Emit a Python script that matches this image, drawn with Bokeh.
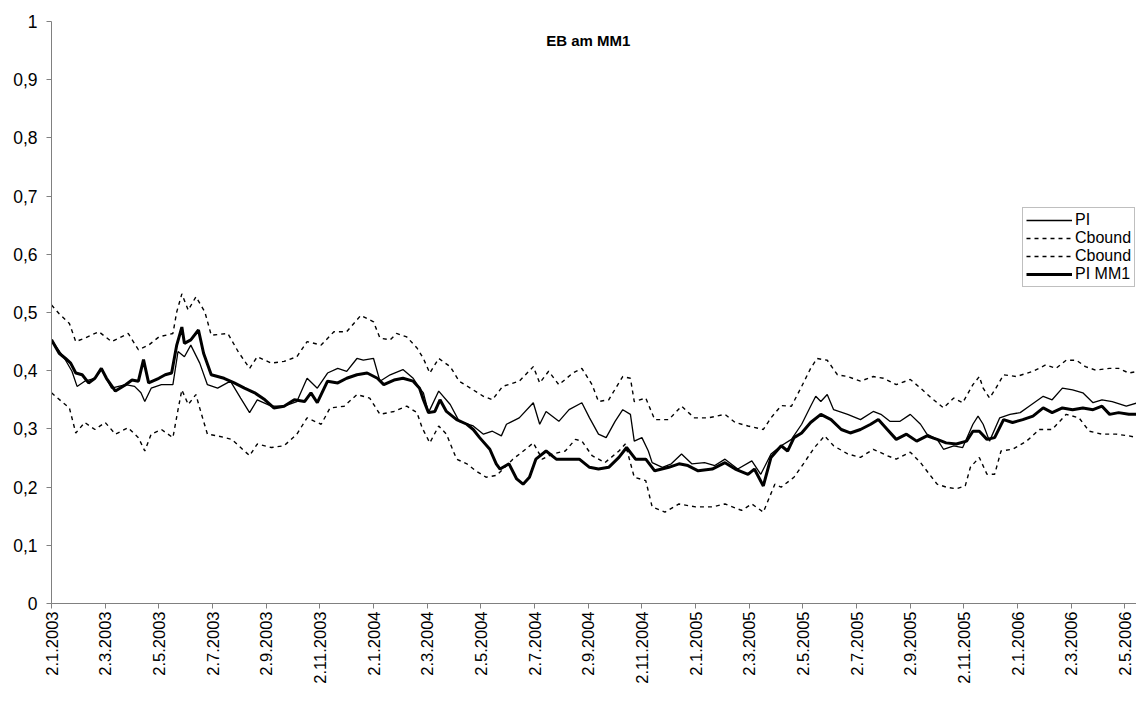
from bokeh.plotting import figure
from bokeh.models import Range1d, FixedTicker, Legend, LegendItem, Label
from bokeh.embed import file_html
from bokeh.resources import INLINE

# ---------------- data (x = trading-day index, 42 days per tick label) ----
tick_labels = ["2.1.2003", "2.3.2003", "2.5.2003", "2.7.2003", "2.9.2003", "2.11.2003",
               "2.1.2004", "2.3.2004", "2.5.2004", "2.7.2004", "2.9.2004", "2.11.2004",
               "2.1.2005", "2.3.2005", "2.5.2005", "2.7.2005", "2.9.2005", "2.11.2005",
               "2.1.2006", "2.3.2006", "2.5.2006"]
days_per_label = 42
y_ticks = [0, 0.1, 0.2, 0.3, 0.4, 0.5, 0.6, 0.7, 0.8, 0.9, 1]
y_labels = ["0", "0,1", "0,2", "0,3", "0,4", "0,5", "0,6", "0,7", "0,8", "0,9", "1"]

pi_mm1_day = [0, 6, 11, 15, 19, 24, 29, 34, 39, 43, 50, 58, 63, 68, 72, 76, 84, 89, 94, 98,
              102, 104, 109, 115, 119, 125, 135, 143, 151, 159, 167, 174, 182, 190, 198, 203,
              208, 216, 224, 231, 239, 247, 255, 260, 268, 275, 283, 288, 291, 295, 300, 304,
              309, 317, 325, 330, 335, 343, 348, 351, 358, 364, 369, 374, 379, 387, 395, 405,
              413, 421, 428, 436, 444, 450, 457, 465, 472, 483, 491, 498, 506, 517, 527, 535,
              545, 550, 557, 563, 571, 576, 581, 587, 594, 602, 610, 618, 625, 633, 641, 647,
              654, 661, 669, 677, 685, 693, 700, 708, 716, 721, 726, 732, 738, 745, 752, 760,
              768, 776, 783, 791, 799, 807, 815, 822, 828, 835, 843, 850, 856]
pi_mm1_val = [0.453, 0.430, 0.421, 0.413, 0.396, 0.393, 0.379, 0.387, 0.404, 0.387, 0.365,
              0.376, 0.384, 0.382, 0.419, 0.379, 0.387, 0.393, 0.396, 0.444, 0.475, 0.447,
              0.453, 0.470, 0.430, 0.393, 0.387, 0.379, 0.370, 0.362, 0.350, 0.336, 0.339,
              0.350, 0.347, 0.362, 0.345, 0.382, 0.379, 0.387, 0.393, 0.396, 0.387, 0.376,
              0.384, 0.387, 0.382, 0.370, 0.350, 0.328, 0.330, 0.350, 0.330, 0.316, 0.308,
              0.299, 0.285, 0.265, 0.240, 0.231, 0.240, 0.214, 0.205, 0.217, 0.248, 0.262,
              0.248, 0.248, 0.248, 0.234, 0.231, 0.234, 0.251, 0.268, 0.248, 0.248, 0.228,
              0.234, 0.240, 0.237, 0.228, 0.231, 0.242, 0.231, 0.222, 0.231, 0.202, 0.251,
              0.271, 0.262, 0.285, 0.293, 0.311, 0.325, 0.316, 0.299, 0.293, 0.299, 0.308,
              0.316, 0.299, 0.282, 0.291, 0.279, 0.288, 0.282, 0.276, 0.274, 0.279, 0.296,
              0.296, 0.282, 0.285, 0.316, 0.311, 0.316, 0.322, 0.336, 0.328, 0.336, 0.333,
              0.336, 0.333, 0.339, 0.325, 0.328, 0.325, 0.325, 0.322]

pi_day = [0, 11, 16, 20, 26, 34, 39, 47, 58, 65, 70, 73, 78, 86, 95, 99, 104, 109, 116, 122,
          130, 140, 148, 155, 161, 172, 182, 192, 200, 208, 216, 224, 231, 239, 244, 252, 257,
          265, 275, 283, 288, 291, 295, 303, 312, 319, 330, 338, 345, 352, 356, 366, 377, 382,
          387, 397, 405, 415, 421, 428, 434, 441, 447, 453, 456, 462, 467, 470, 478, 485, 493,
          501, 511, 519, 527, 537, 548, 555, 563, 571, 579, 587, 594, 598, 602, 607, 612, 623,
          633, 643, 649, 656, 664, 672, 680, 685, 693, 698, 706, 713, 721, 725, 729, 734, 742,
          750, 758, 765, 776, 783, 791, 799, 807, 815, 822, 830, 841, 850, 856]
pi_val = [0.453, 0.418, 0.399, 0.373, 0.382, 0.387, 0.402, 0.370, 0.376, 0.373, 0.362, 0.347,
          0.370, 0.376, 0.376, 0.433, 0.424, 0.444, 0.413, 0.376, 0.370, 0.382, 0.353, 0.328,
          0.350, 0.339, 0.339, 0.347, 0.387, 0.370, 0.396, 0.404, 0.399, 0.421, 0.418, 0.421,
          0.382, 0.393, 0.402, 0.387, 0.370, 0.362, 0.328, 0.365, 0.342, 0.313, 0.305, 0.291,
          0.296, 0.288, 0.308, 0.319, 0.345, 0.308, 0.330, 0.313, 0.333, 0.345, 0.319, 0.291,
          0.285, 0.313, 0.333, 0.325, 0.279, 0.285, 0.262, 0.242, 0.234, 0.240, 0.257, 0.240,
          0.242, 0.237, 0.248, 0.231, 0.245, 0.222, 0.257, 0.271, 0.282, 0.308, 0.339, 0.356,
          0.347, 0.359, 0.333, 0.325, 0.316, 0.330, 0.325, 0.313, 0.313, 0.325, 0.308, 0.291,
          0.282, 0.265, 0.271, 0.268, 0.308, 0.322, 0.308, 0.279, 0.319, 0.325, 0.328, 0.339,
          0.356, 0.350, 0.370, 0.367, 0.362, 0.345, 0.350, 0.347, 0.339, 0.345, 0.343]

cb_up_day = [0, 6, 14, 19, 26, 37, 47, 60, 68, 76, 84, 95, 98, 102, 107, 113, 120, 125, 138,
             146, 155, 161, 172, 182, 192, 200, 211, 221, 231, 242, 252, 257, 265, 270, 278,
             286, 291, 296, 303, 312, 319, 330, 338, 345, 353, 366, 377, 382, 389, 397, 408,
             415, 423, 428, 436, 447, 453, 456, 465, 472, 483, 493, 503, 514, 527, 535, 545,
             557, 563, 571, 579, 587, 594, 599, 607, 615, 623, 633, 643, 651, 661, 672, 680,
             687, 698, 706, 713, 721, 726, 729, 734, 739, 745, 755, 768, 778, 786, 794, 802,
             809, 817, 828, 835, 843, 850, 856]
cb_up_val = [0.513, 0.498, 0.481, 0.450, 0.456, 0.467, 0.450, 0.464, 0.436, 0.444, 0.458,
             0.464, 0.501, 0.532, 0.504, 0.527, 0.501, 0.461, 0.464, 0.433, 0.404, 0.424,
             0.413, 0.416, 0.424, 0.450, 0.444, 0.467, 0.467, 0.495, 0.484, 0.456, 0.453,
             0.464, 0.458, 0.439, 0.421, 0.396, 0.421, 0.407, 0.382, 0.367, 0.356, 0.350,
             0.373, 0.382, 0.407, 0.379, 0.399, 0.376, 0.396, 0.404, 0.376, 0.347, 0.350,
             0.390, 0.387, 0.347, 0.353, 0.316, 0.316, 0.339, 0.319, 0.319, 0.325, 0.311,
             0.305, 0.299, 0.319, 0.340, 0.339, 0.373, 0.404, 0.421, 0.418, 0.393, 0.390,
             0.382, 0.390, 0.387, 0.376, 0.385, 0.370, 0.356, 0.336, 0.353, 0.345, 0.376,
             0.390, 0.370, 0.353, 0.370, 0.393, 0.390, 0.399, 0.410, 0.404, 0.418, 0.418,
             0.407, 0.401, 0.404, 0.404, 0.396, 0.399, 0.397]

cb_lo_day = [0, 8, 14, 19, 26, 34, 42, 50, 60, 68, 73, 78, 86, 95, 99, 102, 107, 113, 117,
             122, 130, 141, 148, 155, 161, 172, 182, 192, 200, 211, 218, 229, 239, 249, 257,
             268, 278, 286, 290, 296, 303, 309, 317, 325, 332, 340, 348, 352, 361, 371, 377,
             384, 392, 402, 410, 415, 423, 433, 444, 449, 456, 465, 470, 480, 491, 504, 517,
             527, 540, 548, 557, 566, 571, 581, 589, 597, 605, 612, 623, 633, 643, 654, 661,
             672, 680, 687, 693, 700, 708, 715, 719, 726, 732, 738, 743, 752, 763, 773, 783,
             794, 804, 812, 822, 833, 843, 850, 856]
cb_lo_val = [0.362, 0.347, 0.336, 0.293, 0.311, 0.299, 0.311, 0.291, 0.302, 0.285, 0.262,
             0.291, 0.299, 0.285, 0.333, 0.367, 0.342, 0.359, 0.328, 0.291, 0.288, 0.282,
             0.268, 0.254, 0.274, 0.268, 0.271, 0.291, 0.319, 0.308, 0.336, 0.339, 0.359,
             0.353, 0.325, 0.330, 0.339, 0.328, 0.302, 0.276, 0.305, 0.291, 0.248, 0.240,
             0.228, 0.217, 0.220, 0.228, 0.248, 0.265, 0.276, 0.248, 0.257, 0.262, 0.282,
             0.279, 0.254, 0.242, 0.262, 0.274, 0.217, 0.211, 0.166, 0.157, 0.171, 0.166,
             0.166, 0.171, 0.160, 0.171, 0.157, 0.205, 0.200, 0.217, 0.242, 0.268, 0.288,
             0.271, 0.257, 0.251, 0.265, 0.254, 0.248, 0.260, 0.242, 0.222, 0.205, 0.200,
             0.197, 0.202, 0.234, 0.251, 0.222, 0.222, 0.262, 0.265, 0.279, 0.299, 0.299,
             0.325, 0.319, 0.296, 0.291, 0.291, 0.288, 0.285, 0.284]

title_text = "EB am MM1"

# ---------------- figure ----------------
FONT = "Liberation Sans"
AXIS_COLOR = "#808080"

p = figure(width=1136, height=686, output_backend="svg", toolbar_location=None,
           x_range=Range1d(0, 849), y_range=Range1d(0, 1),
           min_border_left=51, min_border_right=0, min_border_top=21,
           min_border_bottom=79)
p.outline_line_color = None
p.background_fill_color = "white"
p.border_fill_color = "white"
p.xgrid.visible = False
p.ygrid.visible = False

x_tick_pos = [i * days_per_label for i in range(len(tick_labels))]
p.xaxis.ticker = FixedTicker(ticks=x_tick_pos)
p.xaxis.major_label_overrides = {t: lab for t, lab in zip(x_tick_pos, tick_labels)}
p.xaxis.major_label_orientation = 3.14159265 / 2
p.yaxis.ticker = FixedTicker(ticks=y_ticks)
p.yaxis.major_label_overrides = {t: lab for t, lab in zip(y_ticks, y_labels)}

for ax in (p.xaxis[0], p.yaxis[0]):
    ax.axis_line_color = AXIS_COLOR
    ax.axis_line_width = 1
    ax.major_tick_line_color = AXIS_COLOR
    ax.major_tick_out = 5
    ax.major_tick_in = 0
    ax.minor_tick_line_color = None
    ax.major_label_text_font = FONT
    ax.major_label_text_color = "black"
p.xaxis.major_label_text_font_size = "16.5px"
p.yaxis.major_label_text_font_size = "17.5px"
p.xaxis.major_label_standoff = 3
p.yaxis.major_label_standoff = 9

r_up = p.line(cb_up_day, cb_up_val, line_color="black", line_width=1.4, line_dash="4 4")
r_lo = p.line(cb_lo_day, cb_lo_val, line_color="black", line_width=1.4, line_dash="4 4")
r_pi = p.line(pi_day, pi_val, line_color="black", line_width=1.3)
r_mm = p.line(pi_mm1_day, pi_mm1_val, line_color="black", line_width=3)

legend = Legend(items=[LegendItem(label="PI", renderers=[r_pi]),
                       LegendItem(label="Cbound", renderers=[r_up]),
                       LegendItem(label="Cbound", renderers=[r_lo]),
                       LegendItem(label="PI MM1", renderers=[r_mm])],
                location=(971, 316))
legend.label_text_font = FONT
legend.label_text_font_size = "16px"
legend.label_text_color = "black"
legend.glyph_width = 46
legend.glyph_height = 14
legend.label_height = 14
legend.label_standoff = 3
legend.spacing = 0
legend.padding = 3
legend.margin = 0
legend.border_line_color = AXIS_COLOR
legend.border_line_width = 1
legend.background_fill_color = "white"
legend.background_fill_alpha = 1
p.add_layout(legend)

title = Label(x=420, y=0.967, text=title_text, text_font=FONT, text_font_size="15px",
              text_font_style="bold", text_align="center", text_baseline="middle",
              text_color="black")
p.add_layout(title)

open("out.html", "w").write(file_html(p, INLINE))
